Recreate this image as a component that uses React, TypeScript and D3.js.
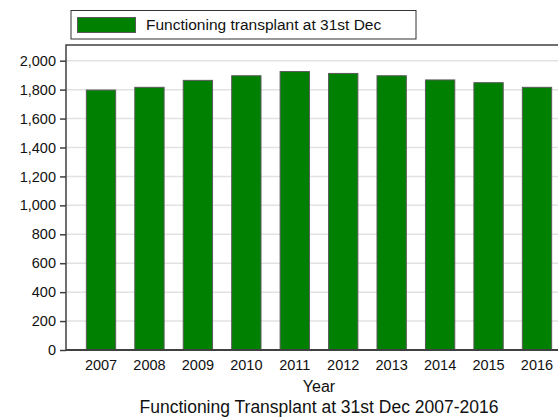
import { useEffect, useRef } from 'react'
import * as d3 from 'd3'

const years = ['2007', '2008', '2009', '2010', '2011', '2012', '2013', '2014', '2015', '2016']
const functioning = [1797, 1816, 1864, 1896, 1925, 1912, 1896, 1867, 1848, 1816]
const yTicks = [0, 200, 400, 600, 800, 1000, 1200, 1400, 1600, 1800, 2000]
const legendLabel = 'Functioning transplant at 31st Dec'
const xTitle = 'Year'
const chartTitle = 'Functioning Transplant at 31st Dec 2007-2016'

const W = 558
const H = 417
// plot area runs past the right edge of the picture (it is clipped there)
const PLOT = { left: 66, right: 572, top: 45, bottom: 350 }
const FONT = 'Arial, "Liberation Sans", Helvetica, sans-serif'
const FRAME = '#404040'
const GREEN = '#008000'

export default function App() {
  const svgRef = useRef<SVGSVGElement>(null)

  useEffect(() => {
    const svg = d3.select(svgRef.current)
    svg.selectAll('*').remove()

    const x = d3.scaleBand<string>()
      .domain(years)
      .range([PLOT.left, PLOT.right])
      .paddingInner(0.395)
      .paddingOuter(0.42)

    const y = d3.scaleLinear()
      .domain([0, 2000])
      .range([PLOT.bottom, 60.7])

    // Gridlines
    svg.append('g')
      .selectAll('line')
      .data(yTicks.filter(d => d > 0))
      .join('line')
      .attr('x1', PLOT.left).attr('x2', PLOT.right)
      .attr('y1', d => y(d)).attr('y2', d => y(d))
      .attr('stroke', '#e2e2e2')
      .attr('stroke-width', 1.5)

    // Bars
    svg.append('g')
      .selectAll('rect')
      .data(years)
      .join('rect')
      .attr('x', d => x(d)!)
      .attr('width', x.bandwidth())
      .attr('y', (d, i) => y(functioning[i]))
      .attr('height', (d, i) => y(0) - y(functioning[i]))
      .attr('fill', GREEN)
      .attr('stroke', '#5a5a5a')
      .attr('stroke-width', 1)

    // Frame: top + left
    svg.append('path')
      .attr('d', `M${PLOT.left},${PLOT.bottom}V${PLOT.top}H${PLOT.right}`)
      .attr('fill', 'none')
      .attr('stroke', FRAME)
      .attr('stroke-width', 1.5)

    // Y axis
    const yAxis = d3.axisLeft(y)
      .tickValues(yTicks)
      .tickFormat(d3.format(','))
      .tickSize(6)
      .tickPadding(4)
    svg.append('g')
      .attr('transform', `translate(${PLOT.left},0)`)
      .call(yAxis)
      .call(ax => ax.select('.domain').remove())
      .call(ax => ax.selectAll('line').attr('stroke', FRAME).attr('stroke-width', 1.5))
      .call(ax => ax.selectAll('text')
        .attr('font-size', 14.5)
        .attr('fill', '#111')
        .attr('font-family', FONT))

    // X axis
    const xAxis = d3.axisBottom(x).tickSize(0).tickPadding(10)
    svg.append('g')
      .attr('transform', `translate(0,${PLOT.bottom})`)
      .call(xAxis)
      .call(ax => ax.select('.domain')
        .attr('d', `M${PLOT.left},0H${PLOT.right}`)
        .attr('stroke', FRAME).attr('stroke-width', 2))
      .call(ax => ax.selectAll('text')
        .attr('font-size', 14.5)
        .attr('fill', '#111')
        .attr('font-family', FONT))

    const cx = (PLOT.left + PLOT.right) / 2
    svg.append('text')
      .attr('x', cx).attr('y', 392)
      .attr('text-anchor', 'middle')
      .attr('font-size', 16)
      .attr('font-family', FONT)
      .attr('fill', '#111')
      .text(xTitle)

    svg.append('text')
      .attr('x', cx).attr('y', 413)
      .attr('text-anchor', 'middle')
      .attr('font-size', 17.5)
      .attr('font-family', FONT)
      .attr('fill', '#111')
      .text(chartTitle)

    // Legend
    const lg = svg.append('g')
    lg.append('rect')
      .attr('x', 71).attr('y', 10.5)
      .attr('width', 345).attr('height', 28.5)
      .attr('fill', 'white')
      .attr('stroke', '#333')
      .attr('stroke-width', 1)
    lg.append('rect')
      .attr('x', 77.5).attr('y', 17.5)
      .attr('width', 58).attr('height', 15)
      .attr('fill', GREEN)
      .attr('stroke', '#5a5a5a')
      .attr('stroke-width', 1)
    lg.append('text')
      .attr('x', 146).attr('y', 30)
      .attr('font-size', 15.5)
      .attr('font-family', FONT)
      .attr('fill', '#111')
      .text(legendLabel)
  }, [])

  return (
    <svg
      ref={svgRef}
      width={W}
      height={H}
      style={{ position: 'absolute', left: 0, top: 0, background: 'white' }}
    />
  )
}
